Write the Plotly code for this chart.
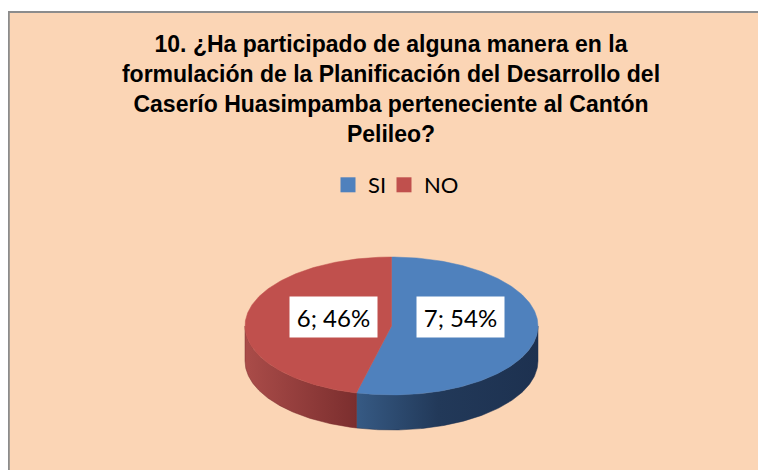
import numpy as np
import plotly.graph_objects as go

# ---- data ----
categories = ["SI", "NO"]
values = [7, 6]
title_lines = [
    "10. ¿Ha participado de alguna manera en la",
    "formulación de la Planificación del Desarrollo del",
    "Caserío Huasimpamba perteneciente al Cantón",
    "Pelileo?",
]

# ---- style ----
top_colors = ["#4F81BD", "#C0504D"]
side_scales = [
    [[0, "#365A84"], [0.45, "#223959"], [1, "#1D3150"]],
    [[0, "#AA4C49"], [1, "#7B2E2E"]],
]
PAGE_OFF = 8            # default body margin of the html page
W, H = 766 - PAGE_OFF, 470 - PAGE_OFF
CX, CY, RA, RB, DEPTH = 391.5, 326, 146.5, 69, 35
LABEL_R, LABEL_DX, LABEL_DY = 0.437, 5.5, -9.5
LEGEND_LEFT = [320, 376]   # px, left edge of each legend entry


def pt(theta_deg, dy=0.0, r=1.0):
    t = np.radians(theta_deg)
    return CX + RA * r * np.sin(t), CY - RB * r * np.cos(t) + dy


total = sum(values)
bounds = [0.0]
for v in values:
    bounds.append(bounds[-1] + 360.0 * v / total)

fig = go.Figure()

# side (front half only: 90..270 deg)
for i, v in enumerate(values):
    a0, a1 = max(bounds[i], 90), min(bounds[i + 1], 270)
    if a1 <= a0:
        continue
    th = np.linspace(a0, a1, 120)
    xt, yt = pt(th)
    xb, yb = pt(th[::-1], DEPTH)
    xs = np.concatenate([xt, xb, xt[:1]])
    ys = np.concatenate([yt, yb, yt[:1]])
    fig.add_trace(go.Scatter(
        x=xs, y=ys, mode="lines", fill="toself",
        line=dict(width=0.5, color=side_scales[i][-1][1]),
        fillgradient=dict(type="horizontal", colorscale=side_scales[i]),
        showlegend=False, hoverinfo="skip"))

# top faces
for i, v in enumerate(values):
    th = np.linspace(bounds[i], bounds[i + 1], 200)
    xa, ya = pt(th)
    xs = np.concatenate([[CX], xa, [CX]])
    ys = np.concatenate([[CY], ya, [CY]])
    fig.add_trace(go.Scatter(
        x=xs, y=ys, mode="lines", fill="toself",
        fillcolor=top_colors[i], line=dict(width=0.5, color=top_colors[i]),
        showlegend=False, hoverinfo="skip"))

# legend entries (one legend box per entry for exact spacing)
legend_names = ["legend", "legend2"]
for i, c in enumerate(categories):
    fig.add_trace(go.Scatter(
        x=[None], y=[None], mode="markers", name=c,
        legend=legend_names[i],
        marker=dict(symbol="square", size=15, color=top_colors[i])))

# data labels
for i, v in enumerate(values):
    mid = (bounds[i] + bounds[i + 1]) / 2
    lx, _ = pt(mid, r=LABEL_R)
    pct = round(100 * v / total)
    fig.add_annotation(
        x=lx + LABEL_DX, y=CY + LABEL_DY, xref="x", yref="y",
        text=f"{v}; {pct}%", showarrow=False,
        font=dict(family="Lato", size=24, color="#000000"),
        bgcolor="#FFFFFF", width=87, height=40, borderpad=0)

legend_style = dict(
    orientation="h", xanchor="left",
    y=1 - 177 / H, yanchor="middle",
    font=dict(family="Lato", size=22, color="#000000"),
    bgcolor="rgba(0,0,0,0)", itemclick=False, itemdoubleclick=False)

fig.update_layout(
    width=W, height=H,
    margin=dict(l=0, r=0, t=0, b=0),
    paper_bgcolor="#FFFFFF",
    plot_bgcolor="rgba(0,0,0,0)",
    showlegend=True,
    title=dict(
        text="<br>".join(title_lines),
        x=383 / W, xanchor="center", y=1 - 44 / H, yanchor="top",
        yref="container",
        font=dict(family="Liberation Sans", size=23, color="#000000",
                  weight="bold")),
    legend=dict(x=LEGEND_LEFT[0] / W, **legend_style),
    legend2=dict(x=LEGEND_LEFT[1] / W, **legend_style),
    xaxis=dict(range=[PAGE_OFF, 766], visible=False, fixedrange=True),
    yaxis=dict(range=[470, PAGE_OFF], visible=False, fixedrange=True),
    shapes=[dict(
        type="rect", xref="paper", yref="paper",
        x0=0.8 / W, x1=1.05, y0=-0.05, y1=1 - 4 / H,
        fillcolor="#FBD5B5", line=dict(color="#8C8C8C", width=2),
        layer="below")],
)

fig.write_html("out.html")
